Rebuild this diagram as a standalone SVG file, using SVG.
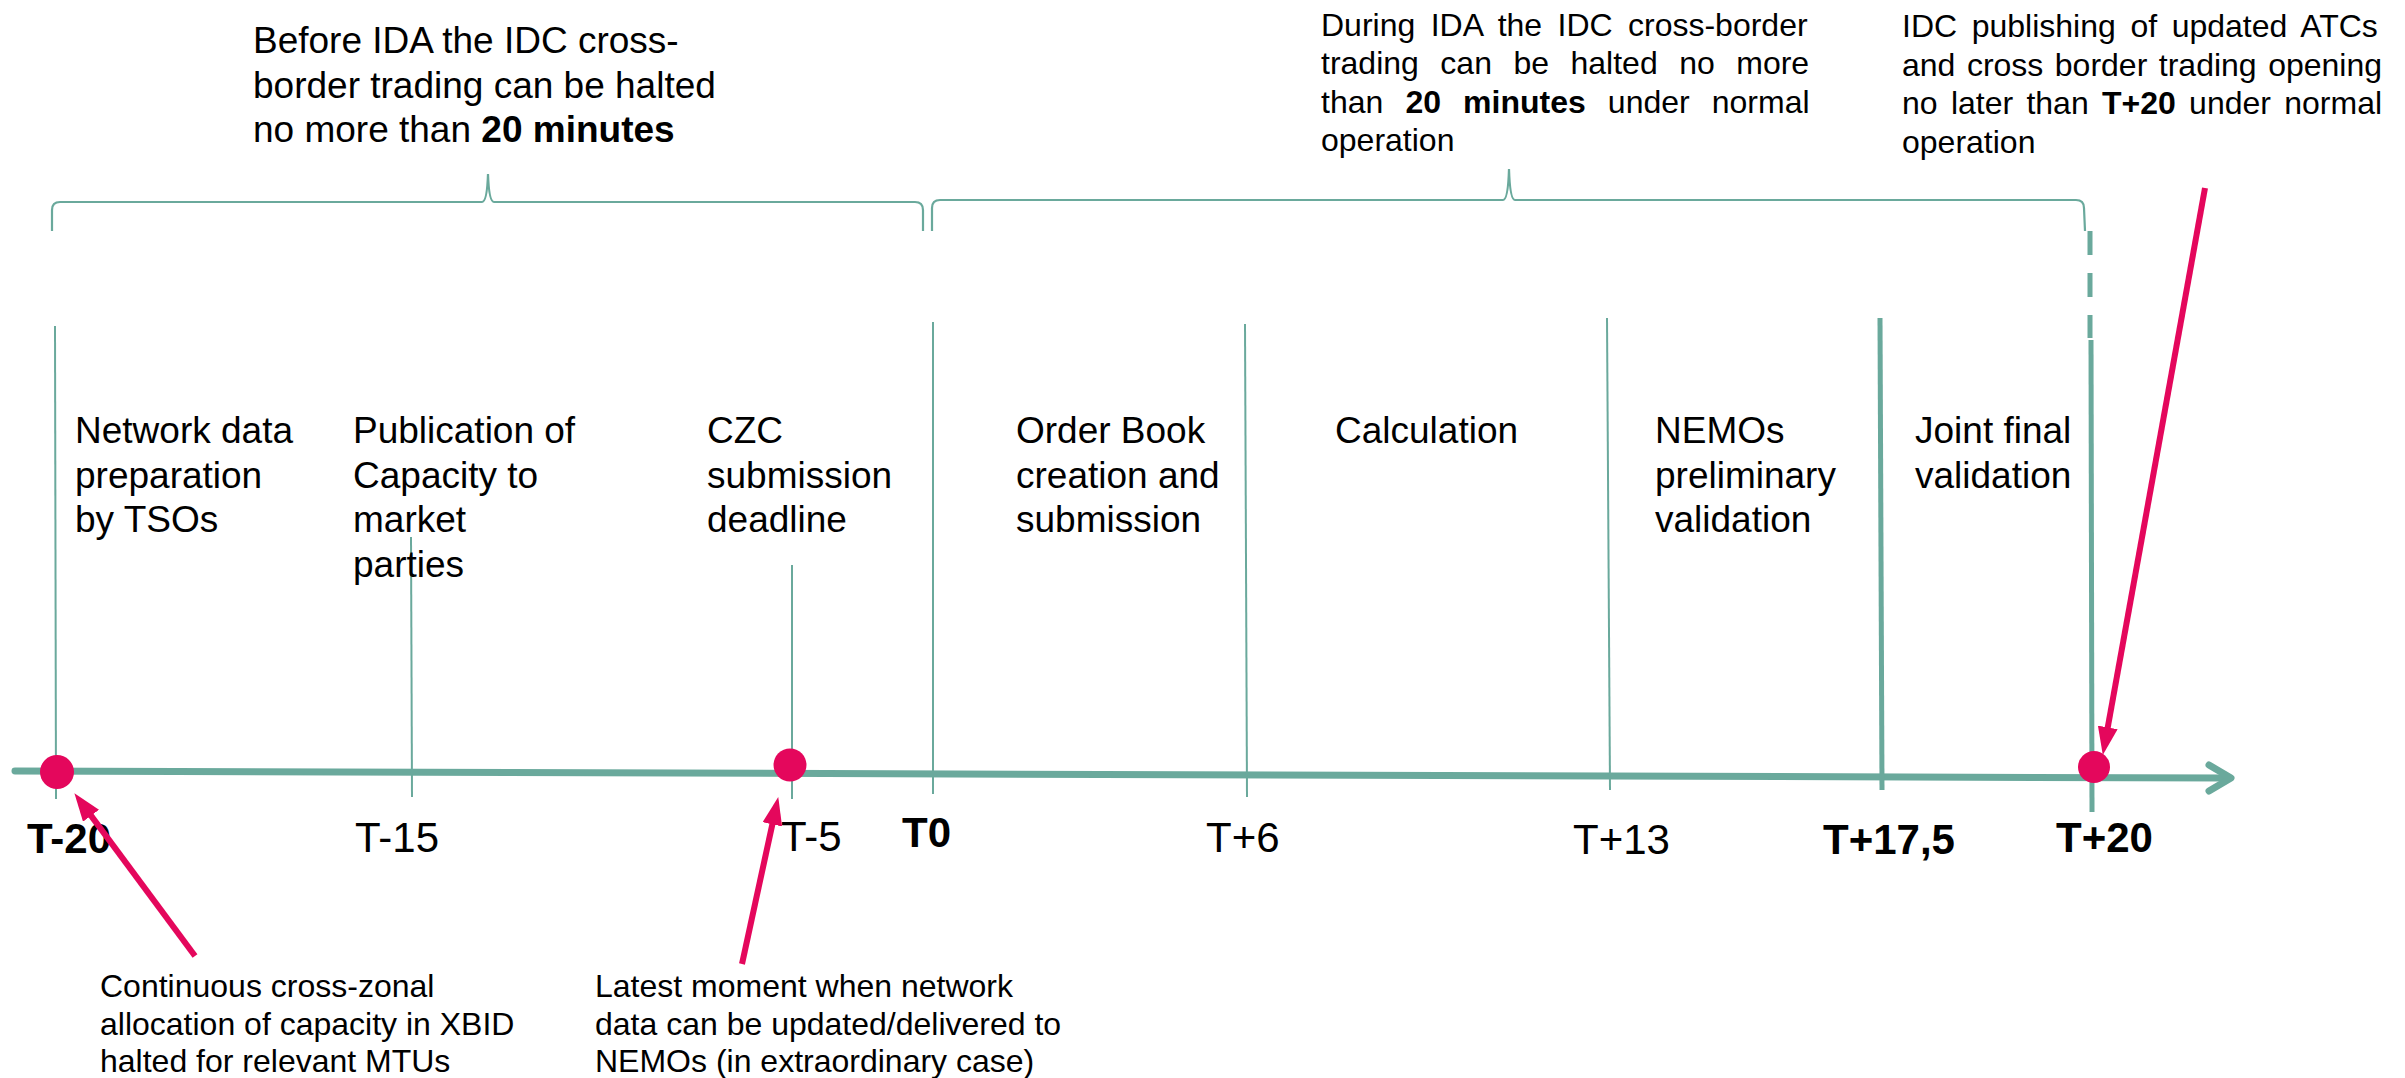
<svg xmlns="http://www.w3.org/2000/svg" width="2405" height="1078" viewBox="0 0 2405 1078">
  <style>
    text { font-family: "Liberation Sans", Arial, sans-serif; fill: #000; }
    .note { font-size: 37px; }
    .just { font-size: 32px; }
    .phase { font-size: 37px; }
    .tick { font-size: 42px; }
    .b { font-weight: bold; }
    .brace { fill: none; stroke: #6aa99c; stroke-width: 2.2; }
    .thin { stroke: #6aa99c; stroke-width: 2; fill: none; }
    .thick { stroke: #6aa99c; stroke-width: 5; fill: none; }
    .axis { stroke: #6aa99c; stroke-width: 7; fill: none; stroke-linecap: round; stroke-linejoin: round; }
    .dot { fill: #e4075c; }
    .ptr { stroke: #e4075c; stroke-width: 6; fill: none; marker-end: url(#pinkHead); }
    .caption { font-size: 32px; }
  </style>
  <defs>
    <marker id="pinkHead" viewBox="0 0 28 20" refX="6" refY="10" markerWidth="28" markerHeight="20" markerUnits="userSpaceOnUse" orient="auto">
      <path d="M0,0 L28,10 L0,20 z" fill="#e4075c"/>
    </marker>
  </defs>

  <rect width="2405" height="1078" fill="#ffffff"/>

  <!-- upper explanatory notes -->
  <g id="note-before-ida">
    <text class="note" x="253" y="53">Before IDA the IDC cross-</text>
    <text class="note" x="253" y="97.5">border trading can be halted</text>
    <text class="note" x="253" y="142">no more than <tspan class="b">20 minutes</tspan></text>
  </g>
  <g id="note-during-ida">
    <text class="just" x="1321" y="35.5" word-spacing="6.5">During IDA the IDC cross-border</text>
    <text class="just" x="1321" y="74" word-spacing="12.6">trading can be halted no more</text>
    <text class="just" x="1321" y="112.5" word-spacing="13.2">than <tspan class="b">20 minutes</tspan> under normal</text>
    <text class="just" x="1321" y="151">operation</text>
  </g>
  <g id="note-publishing">
    <text class="just" x="1902" y="37" word-spacing="5.7">IDC publishing of updated ATCs</text>
    <text class="just" x="1902" y="75.5" word-spacing="2.6">and cross border trading opening</text>
    <text class="just" x="1902" y="114" word-spacing="4.4">no later than <tspan class="b">T+20</tspan> under normal</text>
    <text class="just" x="1902" y="152.5">operation</text>
  </g>

  <!-- braces spanning the two 20-minute windows -->
  <g id="brace-before">
    <path class="brace" d="M52,231 L52,210 Q52,202 60,202 L482,202 Q487,202 488,174 Q489,202 494,202 L915,202 Q923,202 923,210 L923,231"/>
  </g>
  <g id="brace-during">
    <path class="brace" d="M932,231 L932,208 Q932,200 940,200 L1503,200 Q1508,200 1509,169 Q1510,200 1515,200 L2076,200 Q2084,200 2084,208 L2085,231"/>
  </g>

  <!-- time axis -->
  <g id="time-axis">
    <path class="axis" d="M15,771 L2228,778"/>
    <path class="axis" d="M2209,765 L2231,778 L2209,791"/>
  </g>

  <!-- time marks with phase labels -->
  <g id="mark-t-20">
    <line class="thin" x1="55" y1="326" x2="56" y2="799"/>
    <text class="phase" x="75" y="443">Network data</text>
    <text class="phase" x="75" y="487.5">preparation</text>
    <text class="phase" x="75" y="532">by TSOs</text>
    <text class="tick b" x="27" y="853">T-20</text>
    <circle class="dot" cx="57" cy="772" r="17"/>
  </g>
  <g id="mark-t-15">
    <line class="thin" x1="411" y1="537" x2="412" y2="797"/>
    <text class="phase" x="353" y="443">Publication of</text>
    <text class="phase" x="353" y="487.5">Capacity to</text>
    <text class="phase" x="353" y="532">market</text>
    <text class="phase" x="353" y="576.5">parties</text>
    <text class="tick" x="355" y="852">T-15</text>
  </g>
  <g id="mark-t-5">
    <line class="thin" x1="792" y1="565" x2="792" y2="799"/>
    <text class="phase" x="707" y="443">CZC</text>
    <text class="phase" x="707" y="487.5">submission</text>
    <text class="phase" x="707" y="532">deadline</text>
    <text class="tick" x="781" y="851">T-5</text>
    <circle class="dot" cx="790" cy="765" r="16.5"/>
  </g>
  <g id="mark-t0">
    <line class="thin" x1="933" y1="322" x2="933" y2="794"/>
    <text class="phase" x="1016" y="443">Order Book</text>
    <text class="phase" x="1016" y="487.5">creation and</text>
    <text class="phase" x="1016" y="532">submission</text>
    <text class="tick b" x="902" y="847">T0</text>
  </g>
  <g id="mark-t6">
    <line class="thin" x1="1245" y1="324" x2="1247" y2="797"/>
    <text class="phase" x="1335" y="443">Calculation</text>
    <text class="tick" x="1206" y="852">T+6</text>
  </g>
  <g id="mark-t13">
    <line class="thin" x1="1607" y1="318" x2="1610" y2="790"/>
    <text class="phase" x="1655" y="443">NEMOs</text>
    <text class="phase" x="1655" y="487.5">preliminary</text>
    <text class="phase" x="1655" y="532">validation</text>
    <text class="tick" x="1573" y="854">T+13</text>
  </g>
  <g id="mark-t17-5">
    <line class="thick" x1="1880" y1="318" x2="1882" y2="790"/>
    <text class="phase" x="1915" y="443">Joint final</text>
    <text class="phase" x="1915" y="487.5">validation</text>
    <text class="tick b" x="1823" y="854">T+17,5</text>
  </g>
  <g id="mark-t20">
    <path class="thick" d="M2090,231 L2090,255 M2090,273 L2090,297 M2090,315 L2090,338"/>
    <line class="thick" x1="2091" y1="340" x2="2092" y2="812"/>
    <text class="tick b" x="2056" y="852">T+20</text>
    <circle class="dot" cx="2094" cy="767" r="16"/>
  </g>

  <!-- lower captions -->
  <g id="caption-halt">
    <text class="caption" x="100" y="997">Continuous cross-zonal</text>
    <text class="caption" x="100" y="1035">allocation of capacity in XBID</text>
    <text class="caption" x="100" y="1072">halted for relevant MTUs</text>
  </g>
  <g id="caption-latest">
    <text class="caption" x="595" y="997">Latest moment when network</text>
    <text class="caption" x="595" y="1035">data can be updated/delivered to</text>
    <text class="caption" x="595" y="1072">NEMOs (in extraordinary case)</text>
  </g>

  <!-- pointers from captions to the time marks -->
  <g id="connectors">
    <line class="ptr" x1="195" y1="956" x2="87.5" y2="810.9"/>
    <line class="ptr" x1="742" y1="964" x2="773.6" y2="818.5"/>
    <line class="ptr" x1="2205" y1="188" x2="2106.7" y2="733.3"/>
  </g>
</svg>
